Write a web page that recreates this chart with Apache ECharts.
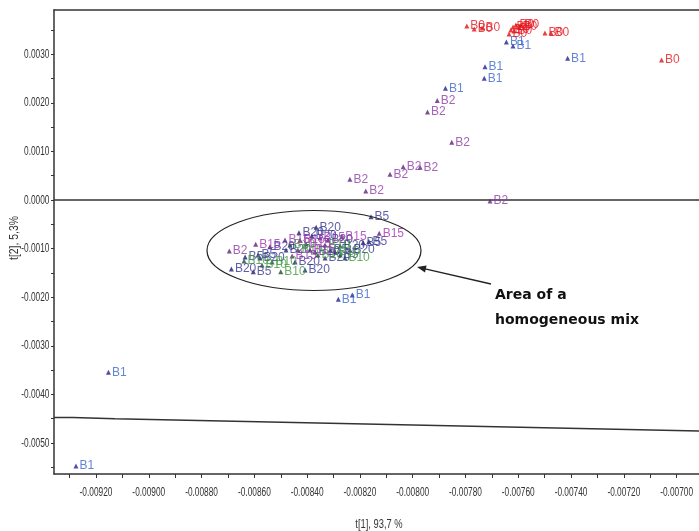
<!DOCTYPE html>
<html><head><meta charset="utf-8">
<script src="https://cdn.jsdelivr.net/npm/echarts@6/dist/echarts.min.js"></script>
<style>html,body{margin:0;padding:0;background:#fff}#c{width:699px;height:531px}</style>
</head><body><div id="c"></div>
<script>
// Axis extents and ticks
const xMin = -0.0093592, xMax = -0.0069152;
const yMin = -0.005638, yMax = 0.003909;
const xTickLabels = [-0.0092,-0.0090,-0.0088,-0.0086,-0.0084,-0.0082,-0.0080,-0.0078,-0.0076,-0.0074,-0.0072,-0.0070];
const xTickMarks = [-0.0093,-0.0092,-0.0091,-0.0090,-0.0089,-0.0088,-0.0087,-0.0086,-0.0085,-0.0084,-0.0083,-0.0082,-0.0081,-0.0080,-0.0079,-0.0078,-0.0077,-0.0076,-0.0075,-0.0074,-0.0073,-0.0072,-0.0071,-0.0070];
const yTickLabels = [-0.005,-0.004,-0.003,-0.002,-0.001,0,0.001,0.002,0.003];
const yTickMarks = [-0.0055,-0.005,-0.0045,-0.004,-0.0035,-0.003,-0.0025,-0.002,-0.0015,-0.001,-0.0005,0,0.0005,0.001,0.0015,0.002,0.0025,0.003,0.0035];
const xAxisTitle = 't[1], 93,7 %';
const yAxisTitle = 't[2], 5,3%';

// Scores t[1], t[2]
const B0 = [[-0.007795,0.003581],[-0.007767,0.003519],[-0.007737,0.003540],[-0.007635,0.003416],[-0.007628,0.003499],[-0.007620,0.003560],[-0.007609,0.003602],[-0.007597,0.003560],[-0.007590,0.003602],[-0.007616,0.003478],[-0.007499,0.003437],[-0.007476,0.003437],[-0.007057,0.002881]];
const B1 = [[-0.007645,0.003252],[-0.007620,0.003169],[-0.007413,0.002916],[-0.007726,0.002743],[-0.007729,0.002505],[-0.007876,0.002299],[-0.009153,-0.003546],[-0.009276,-0.005474],[-0.008282,-0.002044],[-0.008229,-0.001955]];
const B2 = [[-0.007907,0.002048],[-0.007944,0.001811],[-0.007852,0.001187],[-0.007972,0.000673],[-0.008036,0.000685],[-0.008086,0.000529],[-0.008238,0.000426],[-0.008178,0.000185],[-0.007707,-0.0000206],[-0.008695,-0.001050]];
const B5 = [[-0.008158,-0.000344],[-0.008188,-0.000875],[-0.008166,-0.000854],[-0.008604,-0.001476],[-0.008586,-0.001132],[-0.008313,-0.001029],[-0.008275,-0.001132],[-0.008635,-0.001173]];
const B10 = [[-0.008639,-0.001255],[-0.008500,-0.001476],[-0.008533,-0.001276],[-0.008465,-0.000926],[-0.008435,-0.001029],[-0.008294,-0.001070],[-0.008257,-0.001194],[-0.008332,-0.000926],[-0.008571,-0.001338],[-0.008359,-0.001132]];
const B15 = [[-0.008595,-0.000912],[-0.008269,-0.000755],[-0.008127,-0.000685],[-0.008427,-0.000823],[-0.008389,-0.001029],[-0.008457,-0.001152],[-0.008351,-0.000782],[-0.008404,-0.000906],[-0.008484,-0.000823]];
const B20 = [[-0.008431,-0.000673],[-0.008366,-0.000562],[-0.008541,-0.000961],[-0.008687,-0.001420],[-0.008408,-0.001441],[-0.008370,-0.001070],[-0.008321,-0.000823],[-0.008275,-0.000947],[-0.008238,-0.001029],[-0.008480,-0.001029],[-0.008446,-0.001276],[-0.008579,-0.001194],[-0.008332,-0.001194],[-0.008382,-0.000741]];

// Reference lines
const zeroLine = [[xMin,0],[xMax,0]];
const limitLine = [[-0.009359,-0.004476],[-0.009287,-0.004476],[-0.009287,-0.004501],[-0.009128,-0.004501],[-0.009128,-0.004538],[-0.006915,-0.004754]];

const font = '"Liberation Sans",Arial,sans-serif';
const groups = [
  {name:'B2', data:B2, label:'#8e3ca6', marker:'#5e2280'},
  {name:'B1', data:B1, label:'#3c66cc', marker:'#232390'},
  {name:'B0', data:B0, label:'#e5161e', marker:'#e01010'},
  {name:'B20', data:B20, label:'#35358f', marker:'#1e1e6e'},
  {name:'B5', data:B5, label:'#3a3a94', marker:'#1e1e6e'},
  {name:'B10', data:B10, label:'#3d9a3d', marker:'#1f4f2f'},
  {name:'B15', data:B15, label:'#a136b4', marker:'#6a1a80'}
];

const chart = echarts.init(document.getElementById('c'), null, {renderer:'canvas'});
const series = [
  {type:'line', data:zeroLine, showSymbol:false, silent:true, lineStyle:{color:'#333', width:1.5}, z:1},
  {type:'line', data:limitLine, showSymbol:false, silent:true, lineStyle:{color:'#333', width:1.5}, z:1}
].concat(groups.map(g => ({
  type:'scatter', name:g.name, data:g.data, symbol:'triangle', symbolSize:5,
  itemStyle:{color:g.marker},
  label:{show:true, position:'right', distance:1, formatter:g.name, color:g.label, fontSize:12, fontFamily:font},
  z:3
})));

chart.setOption({
  animation:false,
  grid:{left:54, top:10, right:0, bottom:57, containLabel:false},
  xAxis:[{
    type:'value', min:xMin, max:xMax, position:'bottom',
    axisLine:{show:true, onZero:false, lineStyle:{color:'#333', width:1.5}},
    axisTick:{show:true, customValues:xTickMarks, length:4, lineStyle:{color:'#333'}},
    axisLabel:{show:false},
    splitLine:{show:false}
  },{
    type:'value', min:xMin, max:xMax, position:'top',
    axisLine:{show:true, onZero:false, lineStyle:{color:'#333', width:1.5}},
    axisTick:{show:false}, axisLabel:{show:false}, splitLine:{show:false}
  }],
  yAxis:{
    type:'value', min:yMin, max:yMax,
    axisLine:{show:true, onZero:false, lineStyle:{color:'#333', width:1.5}},
    axisTick:{show:true, customValues:yTickMarks, length:3, lineStyle:{color:'#333'}},
    axisLabel:{show:false},
    splitLine:{show:false}
  },
  series: series
});

// Narrow (horizontally condensed) tick labels placed through the axis scales
const sx = 0.64;
const labelGraphics = [];
xTickLabels.forEach(v => {
  labelGraphics.push({type:'text', x:chart.convertToPixel({xAxisIndex:0}, v), y:492.5, scaleX:sx,
    style:{text:v.toFixed(5), font:'13px '+font, fill:'#333', align:'center', verticalAlign:'middle'}});
});
yTickLabels.forEach(v => {
  labelGraphics.push({type:'text', x:49.5, y:chart.convertToPixel({yAxisIndex:0}, v), scaleX:sx,
    style:{text:v.toFixed(4), font:'13px '+font, fill:'#333', align:'right', verticalAlign:'middle'}});
});
labelGraphics.push(
  {type:'text', x:379, y:524, scaleX:0.72, style:{text:xAxisTitle, font:'13px '+font, fill:'#333', align:'center', verticalAlign:'middle'}},
  {type:'text', x:14, y:238, rotation:Math.PI/2, scaleX:0.8, style:{text:yAxisTitle, font:'13px '+font, fill:'#333', align:'center', verticalAlign:'middle'}},
  {type:'ellipse', shape:{cx:314, cy:250.5, rx:107, ry:40}, style:{fill:null, stroke:'#222', lineWidth:1.2}, z:10},
  {type:'line', shape:{x1:491, y1:284, x2:424, y2:268.6}, style:{stroke:'#222', lineWidth:1.3}, z:10},
  {type:'polygon', shape:{points:[[417,267],[426.6,265.4],[425,272.4]]}, style:{fill:'#222'}, z:10},
  {type:'text', x:495, y:283, style:{text:'Area of a\nhomogeneous mix', font:'bold 14px "DejaVu Sans",Verdana,sans-serif', fill:'#111', lineHeight:25}, z:10}
);
chart.setOption({graphic: labelGraphics});
</script></body></html>
